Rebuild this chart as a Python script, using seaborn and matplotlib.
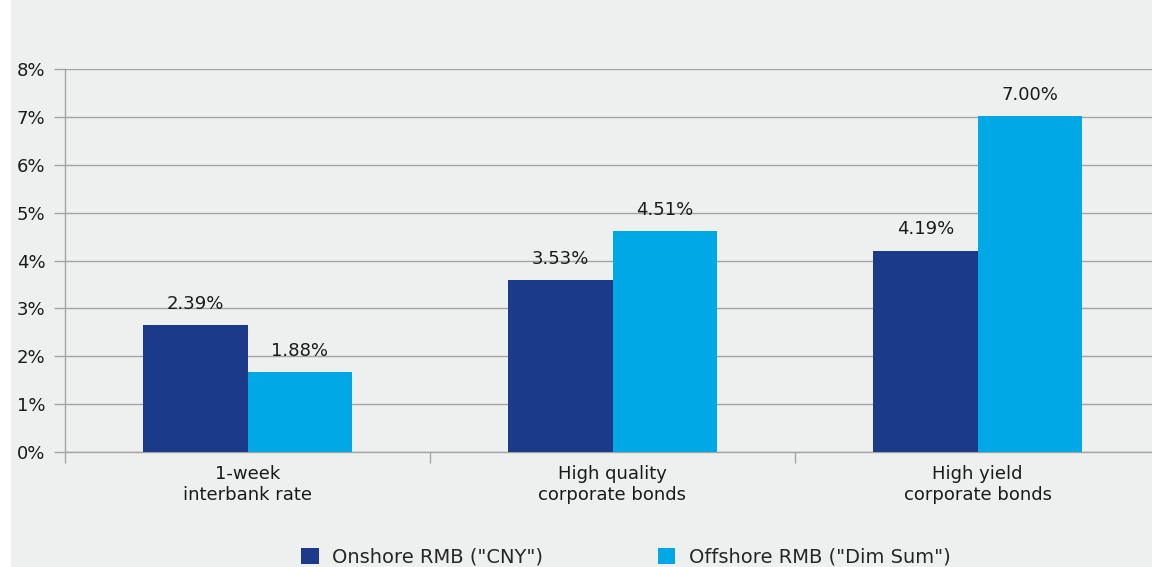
import pandas as pd
import seaborn as sns
import matplotlib.pyplot as plt
from matplotlib.patches import Rectangle

# Data
categories = ["1-week\ninterbank rate", "High quality\ncorporate bonds", "High yield\ncorporate bonds"]
series = ['Onshore RMB ("CNY")', 'Offshore RMB ("Dim Sum")']
onshore = [2.65, 3.59, 4.20]
offshore = [1.67, 4.61, 7.01]
onshore_labels = ["2.39%", "3.53%", "4.19%"]
offshore_labels = ["1.88%", "4.51%", "7.00%"]

df = pd.DataFrame({
    "category": categories * 2,
    "series": [series[0]] * 3 + [series[1]] * 3,
    "value": onshore + offshore,
})

bg = "#EEF0EF"
grid_col = "#A3A3A3"
palette = {series[0]: "#1B3A8A", series[1]: "#00A9E6"}

sns.set_style("white")
plt.rcParams["font.family"] = ["DejaVu Sans"]
plt.rcParams["ytick.left"] = True
plt.rcParams["xtick.bottom"] = True

fig = plt.figure(figsize=(11.52, 5.67), dpi=100, facecolor="white")
# grey panel with thin white strip on the left
fig.patches.append(Rectangle((11 / 1152, 0), 1, 1, transform=fig.transFigure,
                             facecolor=bg, edgecolor="none", zorder=-10))

ax = fig.add_axes([65 / 1152, 1 - 452 / 567, 1095 / 1152, 383 / 567])
ax.set_facecolor(bg)

sns.barplot(data=df, x="category", y="value", hue="series", palette=palette,
            width=0.573, saturation=1, linewidth=0, ax=ax, legend=True, zorder=3)

for cont, labs in zip(ax.containers, [onshore_labels, offshore_labels]):
    ax.bar_label(cont, labels=labs, padding=9, fontsize=13, color="#1a1a1a")

ax.set_xlim(-0.5, 2.5)
ax.set_ylim(0, 8)
ax.set_yticks(range(0, 9))
ax.set_yticklabels([f"{i}%" for i in range(0, 9)], fontsize=13, color="#1a1a1a")
ax.yaxis.grid(True, color=grid_col, linewidth=1.0, zorder=0)
ax.set_axisbelow(True)

ax.set_xticks(range(3))
ax.set_xticklabels(categories, fontsize=13, color="#1a1a1a")
ax.set_xticks([-0.5, 0.5, 1.5, 2.5], minor=True)
ax.tick_params(axis="x", which="major", bottom=False, pad=6)
ax.tick_params(axis="x", which="minor", bottom=True, length=8, color=grid_col, width=1.0)
ax.tick_params(axis="y", which="major", left=True, length=8, color=grid_col, width=1.0, pad=6)

for s in ["top", "right"]:
    ax.spines[s].set_visible(False)
for s in ["left", "bottom"]:
    ax.spines[s].set_color(grid_col)
    ax.spines[s].set_linewidth(1.0)

ax.set_xlabel("")
ax.set_ylabel("")

handles, labels = ax.get_legend_handles_labels()
ax.legend(handles, labels, loc="center", bbox_to_anchor=(626 / 1152, 1 - 557 / 567),
          bbox_transform=fig.transFigure, ncol=2, frameon=False, fontsize=14,
          handlelength=0.9, handleheight=0.9, handletextpad=0.7, columnspacing=5.9)

fig.savefig("out.png", dpi=100, facecolor="white")
